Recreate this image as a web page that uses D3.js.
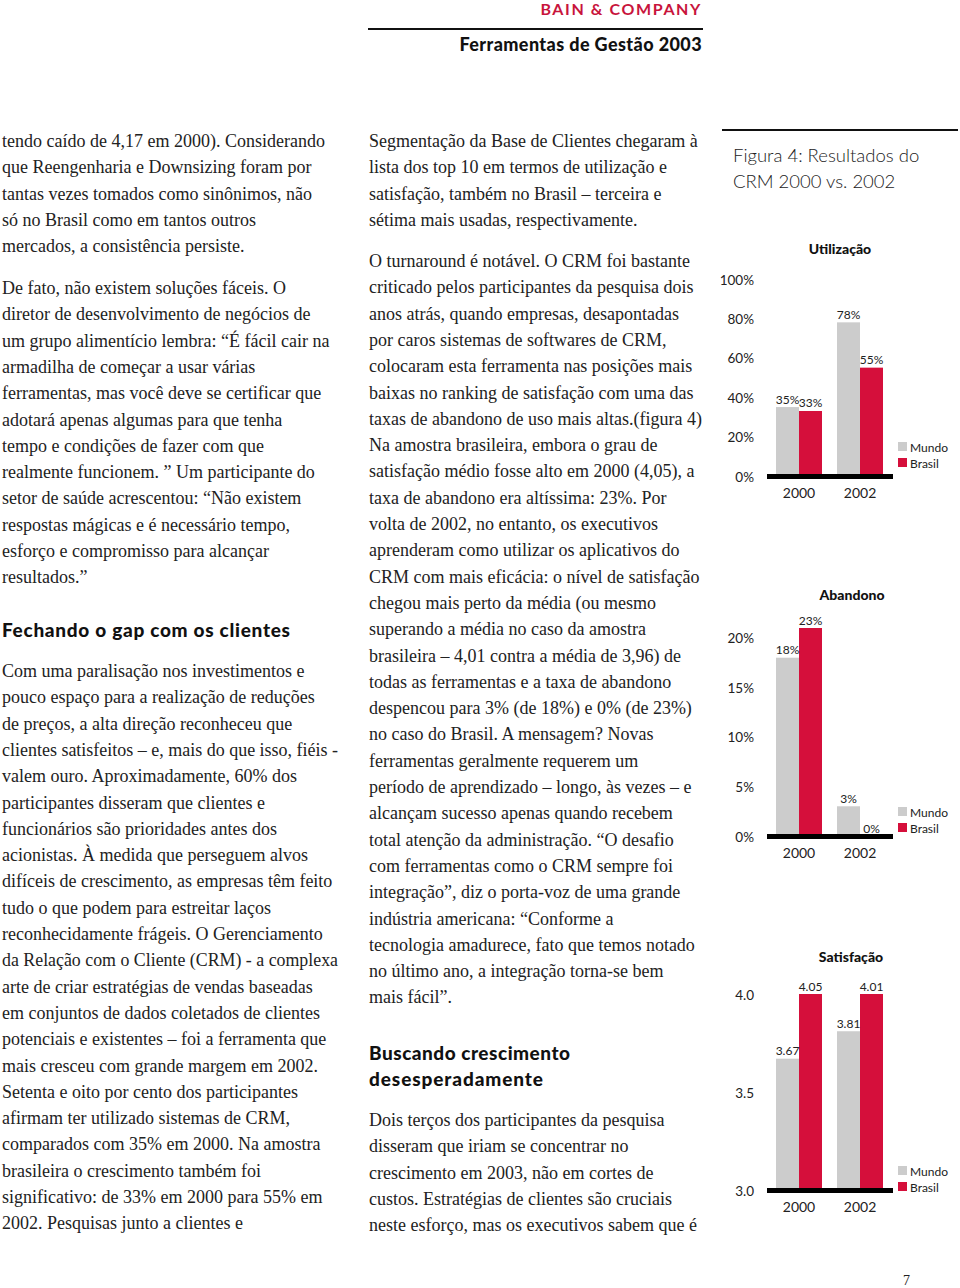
<!DOCTYPE html>
<html><head><meta charset="utf-8">
<script src="https://cdn.jsdelivr.net/npm/d3@7"></script>
<style>
html,body{margin:0;padding:0;background:#fff;}
svg{display:block;}
.body{font-family:"Liberation Serif","DejaVu Serif",serif;font-size:18px;fill:#222;}
.head{font-family:Lato,"DejaVu Sans",sans-serif;font-weight:900;font-size:19px;fill:#111;}
.sans{font-family:Lato,"Open Sans",sans-serif;fill:#222;}
</style></head>
<body>
<script>
// ---------- chart data ----------
const years = ["2000", "2002"];
const seriesNames = ["Mundo", "Brasil"];
const seriesColors = ["#cccccc", "#d50f3b"];
const utilizacaoMundo = [35, 78];
const utilizacaoBrasil = [33, 55];
const abandonoMundo = [18, 3];
const abandonoBrasil = [23, 0];
const satisfacaoMundo = [3.67, 3.81];
const satisfacaoBrasil = [4.05, 4.01];
const utilizacaoTicks = [0, 20, 40, 60, 80, 100];
const abandonoTicks = [0, 5, 10, 15, 20];
const satisfacaoTicks = [3.0, 3.5, 4.0];
const figureTitle = ["Figura 4: Resultados do", "CRM 2000 vs. 2002"];

// ---------- page text ----------
const leftP1 = ["tendo caído de 4,17 em 2000). Considerando","que Reengenharia e Downsizing foram por","tantas vezes tomados como sinônimos, não","só no Brasil como em tantos outros","mercados, a consistência persiste."];
const leftP2 = ["De fato, não existem soluções fáceis.  O","diretor de desenvolvimento de negócios de","um grupo alimentício lembra:  “É fácil cair na","armadilha de começar a usar várias","ferramentas, mas você deve se certificar que","adotará apenas algumas para que tenha","tempo e condições de fazer com que","realmente funcionem. ”  Um participante do","setor de saúde acrescentou:  “Não existem","respostas mágicas e é necessário tempo,","esforço e compromisso para alcançar","resultados.”"];
const leftHead = ["Fechando o gap com os clientes"];
const leftP3 = ["Com uma paralisação nos investimentos e","pouco espaço para a realização de reduções","de preços, a alta direção reconheceu que","clientes satisfeitos – e, mais do que isso, fiéis -","valem ouro.  Aproximadamente, 60% dos","participantes disseram que clientes e","funcionários são prioridades antes dos","acionistas.  À medida que perseguem alvos","difíceis de crescimento, as empresas têm feito","tudo o que podem para estreitar laços","reconhecidamente frágeis. O Gerenciamento","da Relação com o Cliente (CRM) - a complexa","arte de criar estratégias de vendas baseadas","em conjuntos de dados coletados de clientes","potenciais e existentes – foi a ferramenta que","mais cresceu com grande margem em 2002.","Setenta e oito por cento dos participantes","afirmam ter utilizado sistemas de CRM,","comparados com 35% em 2000.  Na amostra","brasileira o crescimento também foi","significativo: de 33% em 2000 para 55% em","2002. Pesquisas junto a clientes e"];
const midP1 = ["Segmentação da Base de Clientes chegaram à","lista dos top 10 em termos de utilização e","satisfação, também no Brasil – terceira e","sétima mais usadas, respectivamente."];
const midP2 = ["O turnaround é notável. O CRM foi bastante","criticado pelos participantes da pesquisa dois","anos atrás, quando empresas, desapontadas","por caros sistemas de softwares de CRM,","colocaram esta ferramenta nas posições mais","baixas no ranking de satisfação com uma das","taxas de abandono de uso mais altas.(figura 4)","Na amostra brasileira, embora o grau de","satisfação médio fosse alto em 2000 (4,05), a","taxa de abandono era altíssima: 23%. Por","volta de 2002, no entanto, os executivos","aprenderam como utilizar os aplicativos do","CRM com mais eficácia:  o nível de satisfação","chegou mais perto da média (ou mesmo","superando a média no caso da amostra","brasileira – 4,01 contra a média de 3,96) de","todas as ferramentas e a taxa de abandono","despencou para 3% (de 18%) e 0% (de 23%)","no caso do Brasil.  A mensagem?  Novas","ferramentas geralmente requerem um","período de aprendizado – longo, às vezes – e","alcançam sucesso apenas quando recebem","total atenção da administração.  “O desafio","com ferramentas como o CRM sempre foi","integração”, diz o porta-voz de uma grande","indústria americana:  “Conforme a","tecnologia amadurece, fato que temos notado","no último ano, a integração torna-se bem","mais fácil”."];
const midHead = ["Buscando crescimento","desesperadamente"];
const midP3 = ["Dois terços dos participantes da pesquisa","disseram que iriam se concentrar no","crescimento em 2003, não em cortes de","custos.  Estratégias de clientes são cruciais","neste esforço, mas os executivos sabem que é"];

const W = 960, H = 1288, LH = 26.3;
const svg = d3.select("body").append("svg").attr("width", W).attr("height", H);

// header
svg.append("text").attr("x", 702).attr("y", 15).attr("text-anchor", "end")
  .attr("class", "sans").style("font-size", "16px").style("font-weight", 700)
  .style("letter-spacing", "1.6px").style("fill", "#c8143c").text("BAIN & COMPANY");
svg.append("rect").attr("x", 368).attr("y", 28).attr("width", 335).attr("height", 2).attr("fill", "#111");
svg.append("text").attr("x", 702).attr("y", 51).attr("text-anchor", "end")
  .attr("class", "sans").style("font-size", "18px").style("font-weight", 900).style("fill", "#111")
  .style("letter-spacing", "0.4px").text("Ferramentas de Gestão 2003");

function block(lines, x, y0, cls, maxW, fitW) {
  const t = svg.append("g").selectAll("text").data(lines).join("text")
    .attr("class", cls).attr("x", x).attr("y", (d, i) => y0 + i * LH)
    .attr("dominant-baseline", "central").text(d => d);
  t.each(function (d, i) {
    const len = this.getComputedTextLength();
    if (fitW) d3.select(this).attr("textLength", fitW[i]).attr("lengthAdjust", "spacing");
    else if (len > maxW) d3.select(this).attr("textLength", maxW).attr("lengthAdjust", "spacingAndGlyphs");
  });
}
block(leftP1, 2, 141, "body", 336);
block(leftP2, 2, 288, "body", 336);
block(leftHead, 2, 629, "head", 300, [288]);
block(leftP3, 2, 671, "body", 336);
block(midP1, 369, 141, "body", 334);
block(midP2, 369, 261, "body", 334);
block(midHead, 369, 1052, "head", 210, [201, 174]);
block(midP3, 369, 1120, "body", 334);

// right column
svg.append("rect").attr("x", 722).attr("y", 129).attr("width", 236).attr("height", 2).attr("fill", "#111");
svg.append("g").selectAll("text").data(figureTitle).join("text")
  .attr("class", "sans").attr("x", 733).attr("y", (d, i) => 155 + i * 26)
  .attr("dominant-baseline", "central").style("font-size", "18.5px").style("font-weight", 300)
  .text(d => d);

svg.append("text").attr("x", 903).attr("y", 1280).attr("dominant-baseline", "central")
  .attr("class", "body").style("font-size", "14px").text("7");

const x0 = d3.scaleBand().domain(years).range([776, 883]).paddingInner(0.246).paddingOuter(0);
const x1 = d3.scaleBand().domain(seriesNames).range([0, x0.bandwidth()]).padding(0);
const color = d3.scaleOrdinal().domain(seriesNames).range(seriesColors);

function barChart(cfg) {
  const g = svg.append("g");
  const y = d3.scaleLinear().domain(cfg.domain).range(cfg.range).clamp(true);
  const base = y(cfg.domain[0]);
  g.append("text").attr("class", "sans").attr("x", cfg.titleX).attr("y", cfg.titleY)
    .attr("text-anchor", "middle").attr("dominant-baseline", "central")
    .style("font-size", "14px").style("font-weight", 900).style("fill", "#111").text(cfg.title);
  const ya = g.append("g").attr("transform", "translate(757,0)")
    .call(d3.axisLeft(y).tickValues(cfg.ticks).tickSize(0).tickPadding(3).tickFormat(cfg.fmt));
  ya.select(".domain").remove();
  ya.selectAll("text").attr("class", "sans").style("font-size", "13.5px").style("fill", "#222")
    .attr("dy", null).attr("dominant-baseline", "central");
  const rows = years.map((yr, i) => ({ yr, vals: [{ s: "Mundo", v: cfg.mundo[i] }, { s: "Brasil", v: cfg.brasil[i] }] }));
  const grp = g.selectAll(".grp").data(rows).join("g").attr("transform", d => `translate(${x0(d.yr)},0)`);
  grp.selectAll("rect").data(d => d.vals).join("rect")
    .attr("x", d => x1(d.s)).attr("width", x1.bandwidth())
    .attr("y", d => y(d.v)).attr("height", d => base - y(d.v)).attr("fill", d => color(d.s));
  grp.selectAll("text").data(d => d.vals).join("text")
    .attr("class", "sans").attr("x", d => x1(d.s) + x1.bandwidth() / 2).attr("y", d => y(d.v) - 8)
    .attr("text-anchor", "middle").attr("dominant-baseline", "central")
    .style("font-size", "12px").style("fill", "#222").text(d => cfg.vfmt(d.v));
  g.append("rect").attr("x", 767).attr("y", base - 2).attr("width", 126).attr("height", 5).attr("fill", "#000");
  const xa = g.append("g").attr("transform", `translate(0,${base + 16})`)
    .call(d3.axisBottom(x0).tickSize(0).tickPadding(0));
  xa.select(".domain").remove();
  xa.selectAll("text").attr("class", "sans").style("font-size", "14px").style("fill", "#222")
    .attr("y", 0).attr("dy", null).attr("dominant-baseline", "central");
  const lg = g.selectAll(".lg").data(seriesNames).join("g")
    .attr("transform", (d, i) => `translate(898,${base + cfg.legOff + i * 16})`);
  lg.append("rect").attr("x", 0).attr("y", -5).attr("width", 9).attr("height", 9).attr("fill", d => color(d));
  lg.append("text").attr("class", "sans").attr("x", 12).attr("y", 0).attr("dominant-baseline", "central")
    .style("font-size", "12px").style("fill", "#222").text(d => d);
}

barChart({ title: "Utilização", titleX: 840, titleY: 248, domain: [0, 100], range: [476, 279],
  ticks: utilizacaoTicks, fmt: d => d + "%", vfmt: d => d + "%", mundo: utilizacaoMundo, brasil: utilizacaoBrasil, legOff: -29 });
barChart({ title: "Abandono", titleX: 852, titleY: 594, domain: [0, 21], range: [836, 628],
  ticks: abandonoTicks, fmt: d => d + "%", vfmt: d => d + "%", mundo: abandonoMundo, brasil: abandonoBrasil, legOff: -24 });
barChart({ title: "Satisfação", titleX: 851, titleY: 956, domain: [3.0, 4.0], range: [1190, 994],
  ticks: satisfacaoTicks, fmt: d3.format(".1f"), vfmt: d3.format(".2f"), mundo: satisfacaoMundo, brasil: satisfacaoBrasil, legOff: -19 });
</script>
</body></html>
